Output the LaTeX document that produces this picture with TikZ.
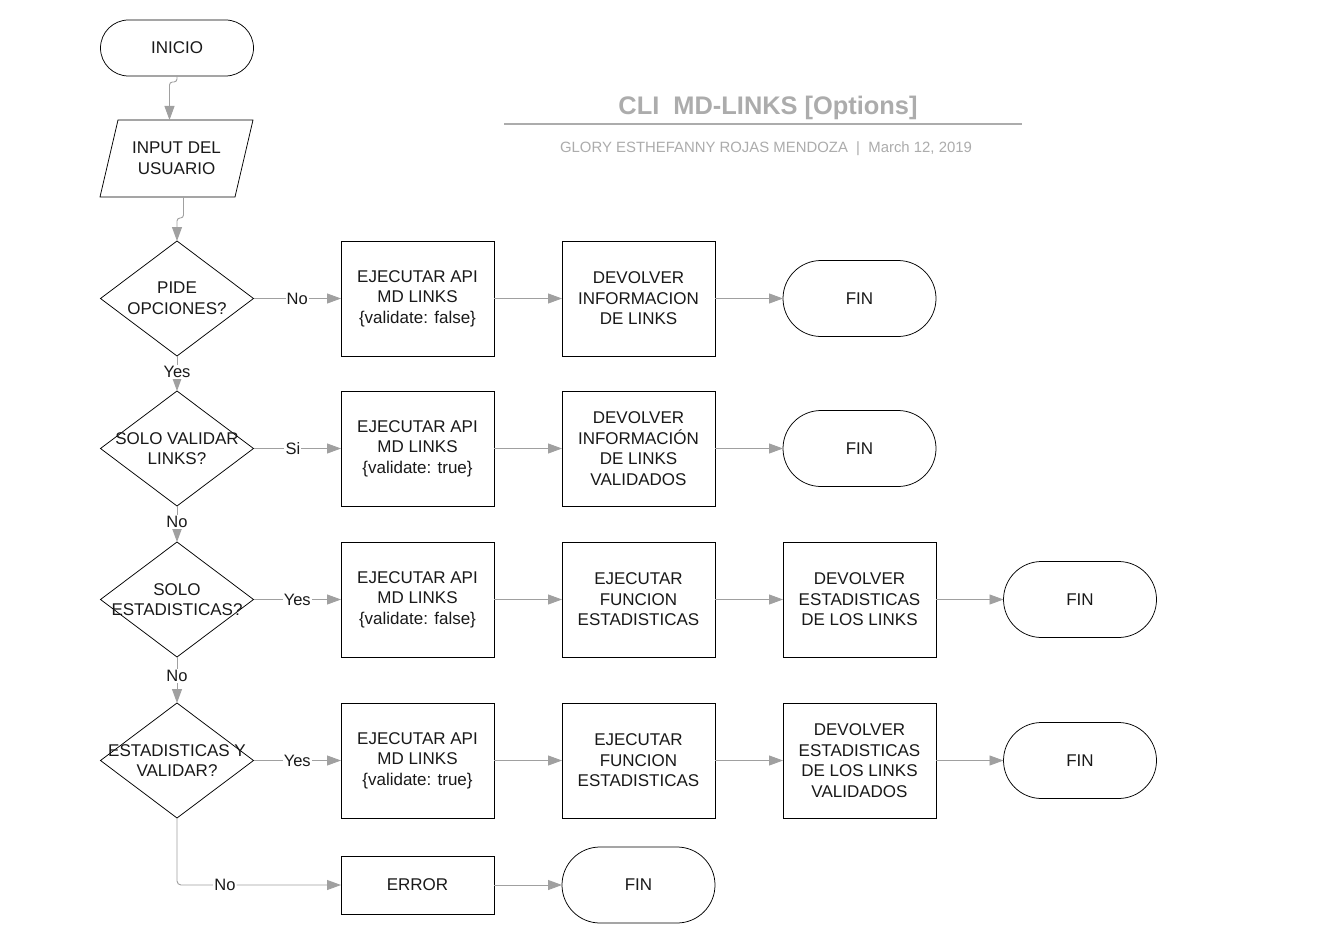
\documentclass[tikz,border=0pt]{standalone}
\usepackage{fontspec}
\setmainfont{Liberation Sans}
\usetikzlibrary{shapes.geometric,shapes.misc,arrows.meta,calc}
\definecolor{cgray}{RGB}{160,160,160}
\definecolor{ttlgray}{RGB}{172,172,172}
\begin{document}
\begin{tikzpicture}[x=1pt,y=-1pt,
  every node/.style={font=\fontsize{17}{20.6}\selectfont, align=center, inner sep=0pt, outer sep=0pt, text=black!90},
  shapeline/.style={draw=black, line width=0.75pt},
  box/.style={shapeline, rectangle, minimum width=153pt, minimum height=115pt},
  term/.style={shapeline, rounded rectangle, minimum width=153pt, minimum height=76pt},
  dia/.style={shapeline, diamond, minimum width=153pt, minimum height=115pt},
  flow/.style={draw=cgray, line width=0.9pt, -{Triangle[length=14pt,width=10pt]}},
  lbl/.style={fill=white, font=\fontsize{16.5}{20}\selectfont, inner sep=1.2pt}
]
\fill[white] (0,0) rectangle (1327,936);
\useasboundingbox (0,0) rectangle (1327,936);

% title
\node[font=\fontsize{25.4}{30}\selectfont\bfseries, text=ttlgray] (title) at (768,107.5) {CLI\ \ MD-LINKS [Options]};
\draw[ttlgray, line width=1.8pt] (504,124) -- (1022,124);
\node[font=\fontsize{14.9}{17}\selectfont, text=ttlgray] (sub) at (766,149) {GLORY ESTHEFANNY ROJAS MENDOZA\ \ |\ \ March 12, 2019};

% left column
\node[term, minimum height=56pt] (start) at (177,48) {INICIO};
\node[minimum width=153pt, minimum height=77pt] (input) at (176.5,158.5) {INPUT DEL\\USUARIO};
\draw[shapeline] ([xshift=18pt]input.north west) -- (input.north east) -- ([xshift=-18pt]input.south east) -- (input.south west) -- cycle;

\node[dia, label={center:{PIDE\\OPCIONES?}}] (d1) at (177,298.5) {};
\node[dia, label={center:{SOLO VALIDAR\\LINKS?}}] (d2) at (177,448.5) {};
\node[dia, label={center:{SOLO\\ESTADISTICAS?}}] (d3) at (177,599.5) {};
\node[dia, label={center:{ESTADISTICAS Y\\VALIDAR?}}] (d4) at (177,760.5) {};

% row 1
\node[box] (a1) at (417.5,298.5) {EJECUTAR API\\MD LINKS\\\{validate: false\}};
\node[box] (b1) at (638.5,298.5) {DEVOLVER\\INFORMACION\\DE LINKS};
\node[term] (f1) at (859.5,298.5) {FIN};

% row 2
\node[box] (a2) at (417.5,448.5) {EJECUTAR API\\MD LINKS\\\{validate: true\}};
\node[box] (b2) at (638.5,448.5) {DEVOLVER\\INFORMACIÓN\\DE LINKS\\VALIDADOS};
\node[term] (f2) at (859.5,448.5) {FIN};

% row 3
\node[box] (a3) at (417.5,599.5) {EJECUTAR API\\MD LINKS\\\{validate: false\}};
\node[box] (c3) at (638.5,599.5) {EJECUTAR\\FUNCION\\ESTADISTICAS};
\node[box] (b3) at (859.5,599.5) {DEVOLVER\\ESTADISTICAS\\DE LOS LINKS};
\node[term] (f3) at (1080,599.5) {FIN};

% row 4
\node[box] (a4) at (417.5,760.5) {EJECUTAR API\\MD LINKS\\\{validate: true\}};
\node[box] (c4) at (638.5,760.5) {EJECUTAR\\FUNCION\\ESTADISTICAS};
\node[box] (b4) at (859.5,760.5) {DEVOLVER\\ESTADISTICAS\\DE LOS LINKS\\VALIDADOS};
\node[term] (f4) at (1080,760.5) {FIN};

% row 5
\node[box, minimum height=58pt] (err) at (417.5,885) {ERROR};
\node[term] (f5) at (638.5,885) {FIN};

% connectors
\draw[flow, rounded corners=3pt] (start.south) -- ++(0,6) -| ([xshift=-7pt]input.north);
\draw[flow, rounded corners=3pt] ([xshift=7pt]input.south) -- ++(0,21) -| (d1.north);

\draw[flow] (d1.east) -- node[lbl]{No} (a1.west);
\draw[flow] (a1.east) -- (b1.west);
\draw[flow] (b1.east) -- (f1.west);
\draw[flow] (d1.south) -- node[lbl, pos=0.45]{Yes} (d2.north);

\draw[flow] (d2.east) -- node[lbl, pos=0.45]{Si} (a2.west);
\draw[flow] (a2.east) -- (b2.west);
\draw[flow] (b2.east) -- (f2.west);
\draw[flow] (d2.south) -- node[lbl, pos=0.45]{No} (d3.north);

\draw[flow] (d3.east) -- node[lbl]{Yes} (a3.west);
\draw[flow] (a3.east) -- (c3.west);
\draw[flow] (c3.east) -- (b3.west);
\draw[flow] (b3.east) -- (f3.west);
\draw[flow] (d3.south) -- node[lbl, pos=0.42]{No} (d4.north);

\draw[flow] (d4.east) -- node[lbl]{Yes} (a4.west);
\draw[flow] (a4.east) -- (c4.west);
\draw[flow] (c4.east) -- (b4.west);
\draw[flow] (b4.east) -- (f4.west);

\draw[flow, rounded corners=4pt] (d4.south) |- node[lbl, pos=0.646]{No} (err.west);
\draw[flow] (err.east) -- (f5.west);
\end{tikzpicture}
\end{document}
